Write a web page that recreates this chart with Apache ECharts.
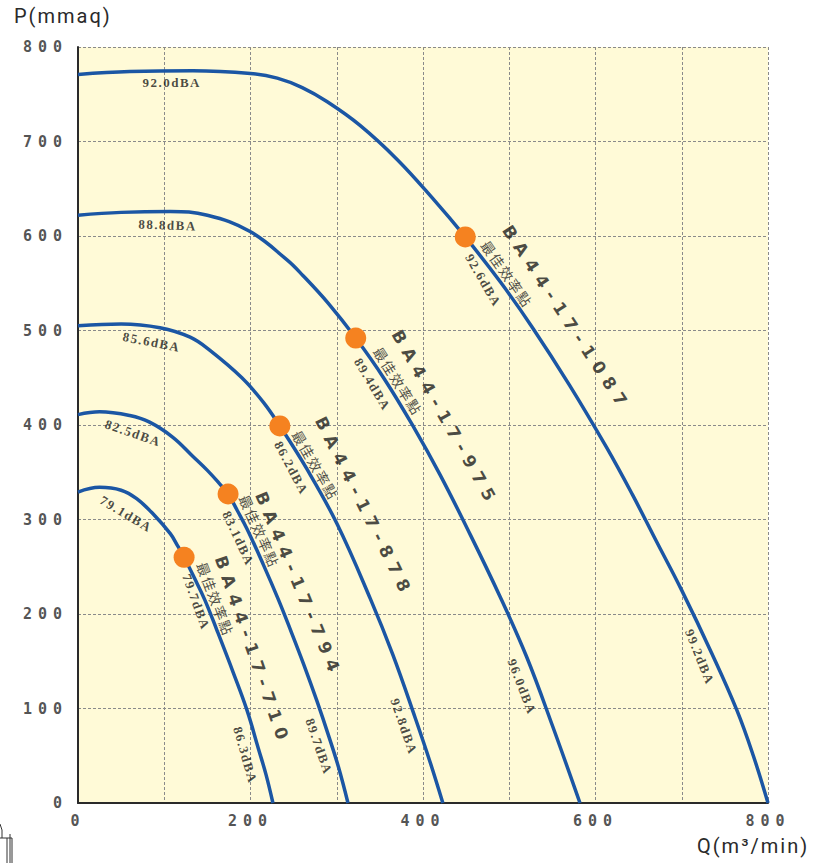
<!DOCTYPE html>
<html><head><meta charset="utf-8">
<script src="https://cdn.jsdelivr.net/npm/echarts@6/dist/echarts.min.js"></script>
<style>
html,body{margin:0;padding:0;background:#fff;}
#chart{width:818px;height:863px;}
text[style*="Liberation Serif"]{letter-spacing:1.5px;}
text[style*="Verdana"]{letter-spacing:7px;}
text[style*="DejaVu Sans Mono"]{letter-spacing:6px;}
text[style*="Roboto"]{letter-spacing:2px;}
text[style*="CJK"]{letter-spacing:1.5px;}
</style></head><body><div id="chart"></div>
<script>
// ---- data (Q in m3/min, P in mmaq) ----
const models = ['BA44-17-1087', 'BA44-17-975', 'BA44-17-878', 'BA44-17-794', 'BA44-17-710'];
const curve1087 = [[0,771],[60,774],[133,775],[200,772],[231,767],[260,757],[289,742],[327,717],[370,681],[411,640],[449,599],[490,551],[527,503],[570,442],[613,376],[643,326],[670,278],[700,225],[735,158],[764,98],[783,50],[800,0]];
const curve975 = [[0,622],[50,625],[107,626],[150,622],[199,605],[242,575],[261,558],[290,529],[322,492],[355,449],[389,398],[420,347],[451,291],[489,219],[520,155],[550,82],[582,0]];
const curve878 = [[0,505],[50,507],[95,503],[130,493],[153,479],[190,450],[215,424],[234,399],[265,354],[300,296],[339,216],[365,157],[391,90],[408,44],[423,0]];
const curve794 = [[0,411],[25,414],[60,410],[83,403],[110,387],[133,367],[150,352],[163,339],[174,327],[185,309],[196,290],[215,252],[232,216],[246,184],[262,146],[277,108],[291,70],[302,38],[313,0]];
const curve710 = [[0,329],[25,334],[50,331],[68,322],[88,305],[107,285],[115,273],[123,260],[135,238],[147,215],[161,183],[180,138],[196,98],[209,58],[218,30],[226,0]];
const bestQ = [449, 322, 234, 174, 123];
const bestP = [599, 492, 399, 327, 260];
const startNoise = ['92.0dBA', '88.8dBA', '85.6dBA', '82.5dBA', '79.1dBA'];
const bestNoise = ['92.6dBA', '89.4dBA', '86.2dBA', '83.1dBA', '79.7dBA'];
const endNoise = ['99.2dBA', '96.0dBA', '92.8dBA', '89.7dBA', '86.3dBA'];
const bestText = '最佳效率點';
const xTicks = [0, 200, 400, 600, 800];
const yTicks = [0, 100, 200, 300, 400, 500, 600, 700, 800];

// ---- label layout (anchor in data coords + rotation in degrees) ----
const layout = {
  start: [[108.6,762,0],[103.8,611.6,-2],[85.4,487.8,-11],[63.8,391.5,-19],[55.7,305.8,-31]],
  best:  [[470,553,-60],[341.4,443,-59],[247.5,354.5,-62],[186,280,-65],[137,212.7,-70]],
  end:   [[721,154.5,-68],[514.8,123,-69],[378,81,-71],[279.4,59.8,-71],[194,50.8,-74]],
  cjk:   [[497.4,560,-55],[371,446.6,-57.5],[275.4,357.7,-60],[210.5,287.8,-66],[159.4,216,-69]],
  model: [[566.5,513,-56.6],[426,407,-60.6],[332,313,-63.6],[256,231,-67.4],[202.5,161,-71]]
};

const curves = [curve1087, curve975, curve878, curve794, curve710];
const chart = echarts.init(document.getElementById('chart'), null, {renderer: 'svg'});

const serifFont = {fontFamily: "'Liberation Serif', serif", fontWeight: 'bold', fontSize: 13, color: '#1a1a1a'};
function labelSeries(list, texts, style) {
  return {
    type: 'scatter', symbolSize: 0, silent: true, z: 5,
    label: Object.assign({show: true, position: 'inside', align: 'center', verticalAlign: 'middle'}, style),
    data: list.map((a, i) => ({value: [a[0], a[1]], label: {formatter: texts[i], rotate: a[2]}}))
  };
}

const series = [];
curves.forEach((c, i) => {
  series.push({
    type: 'line', name: models[i], data: c, showSymbol: false, smooth: 0.4,
    lineStyle: {color: '#1b56a4', width: 3.5}, silent: true, z: 3
  });
});
series.push({
  type: 'scatter', data: bestQ.map((q, i) => [q, bestP[i]]), symbolSize: 21,
  itemStyle: {color: '#f58220', opacity: 1}, silent: true, z: 6
});
series.push(labelSeries(layout.start, startNoise, serifFont));
series.push(labelSeries(layout.best, bestNoise, serifFont));
series.push(labelSeries(layout.end, endNoise, serifFont));
series.push(labelSeries(layout.cjk, models.map(() => bestText), {fontFamily: "'Noto Sans CJK TC'", fontSize: 14, color: '#222'}));
series.push(labelSeries(layout.model, models, {fontFamily: "Verdana, 'DejaVu Sans'", fontWeight: 'bold', fontSize: 17, color: '#1a1a1a'}));

const tickFont = {fontFamily: "'DejaVu Sans Mono', monospace", fontWeight: 'bold', fontSize: 15, color: '#555'};
const gridLine = {show: true, lineStyle: {color: '#8a8a8a', width: 1, type: [3, 2]}};

chart.setOption({
  animation: false,
  backgroundColor: '#ffffff',
  grid: {left: 78, right: 50, top: 47, bottom: 60, show: true, backgroundColor: '#fffad7', borderWidth: 0},
  xAxis: {
    type: 'value', min: 0, max: 800, interval: 100,
    axisLine: {show: true, lineStyle: {color: '#2a2a2a', width: 2}},
    axisTick: {show: false},
    splitLine: gridLine,
    axisLabel: Object.assign({margin: 10, formatter: v => xTicks.indexOf(v) >= 0 ? String(v) : ''}, tickFont)
  },
  yAxis: {
    type: 'value', min: 0, max: 800, interval: 100,
    axisLine: {show: true, lineStyle: {color: '#2a2a2a', width: 2}},
    axisTick: {show: false},
    splitLine: gridLine,
    axisLabel: Object.assign({margin: 10, formatter: v => yTicks.indexOf(v) >= 0 ? String(v) : ''}, tickFont)
  },
  graphic: [
    {type: 'text', left: 14, top: 6, style: {text: 'P(mmaq)', font: "20px Roboto", fill: '#2a2a2a'}},
    {type: 'text', left: 697, top: 836, style: {text: 'Q(m³/min)', font: "20px Roboto", fill: '#2a2a2a'}},
    {type: 'polyline', silent: true, shape: {points: [[0, 838], [12, 838]]}, style: {stroke: '#333', lineWidth: 1}},
    {type: 'polyline', silent: true, shape: {points: [[7, 838], [7, 863]]}, style: {stroke: '#333', lineWidth: 1}},
    {type: 'polyline', silent: true, shape: {points: [[10, 834], [10, 863]]}, style: {stroke: '#333', lineWidth: 1}},
    {type: 'polyline', silent: true, shape: {points: [[12, 838], [12, 863]]}, style: {stroke: '#333', lineWidth: 1}},
    {type: 'polyline', silent: true, shape: {points: [[0, 824], [2, 830], [2, 838]]}, style: {stroke: '#333', lineWidth: 1}}
  ],
  series: series
});
</script></body></html>
